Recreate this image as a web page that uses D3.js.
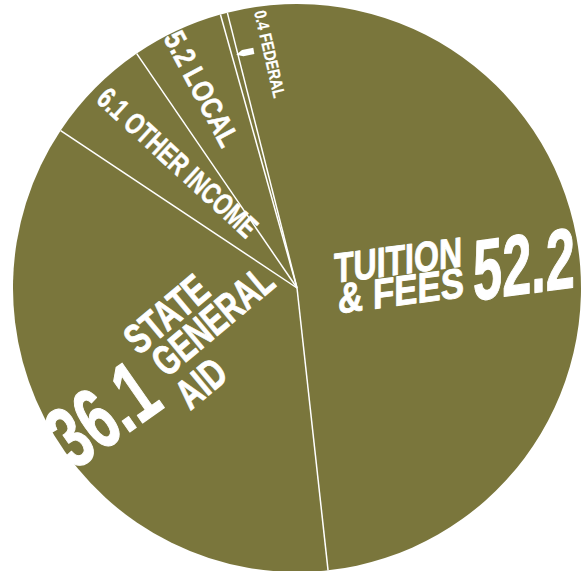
<!DOCTYPE html>
<html><head><meta charset="utf-8">
<script src="https://cdn.jsdelivr.net/npm/d3@7/dist/d3.min.js"></script>
<style>html,body{margin:0;padding:0;background:#fff;overflow:hidden}svg{display:block}</style>
</head><body>
<svg id="chart" width="588" height="571"></svg>
<script>
// ---- data ----
const categories = ["TUITION & FEES", "STATE GENERAL AID", "OTHER INCOME", "LOCAL", "FEDERAL"];
const values = [52.2, 36.1, 6.1, 5.2, 0.4];
const valueLabels = ["52.2", "36.1", "6.1", "5.2", "0.4"];

// ---- layout ----
const cx = 297, cy = 288, R = 284;
const fill = "#7a763c";
const FONT = "'Liberation Sans Narrow','Liberation Sans',Arial,sans-serif";
const deg = Math.PI / 180;
const start = -14.2 * deg;

const svg = d3.select("#chart");
const g = svg.append("g").attr("transform", `translate(${cx},${cy})`);

const pie = d3.pie().sort(null).value(d => d.v).startAngle(start).endAngle(start + 2 * Math.PI);
const rows = categories.map((c, i) => ({c, v: values[i], lab: valueLabels[i]}));
const arcs = pie(rows);
const arc = d3.arc().innerRadius(0).outerRadius(R);

g.selectAll("path.slice").data(arcs).join("path")
  .attr("class", "slice")
  .attr("d", arc)
  .attr("fill", fill);

g.selectAll("line.sep").data(arcs).join("line")
  .attr("class", "sep")
  .attr("x1", 0).attr("y1", 0)
  .attr("x2", d => R * Math.sin(d.startAngle))
  .attr("y2", d => -R * Math.cos(d.startAngle))
  .attr("stroke", "#fff").attr("stroke-width", 1.5);

// pointer for the thin federal slice
const fed = arcs[4];
const fm = (fed.startAngle + fed.endAngle) / 2;
const pr = 241;
const pol = (r, a) => [r * Math.sin(a), -r * Math.cos(a)];
const ptr = [
  pol(pr, fm + 0.3 * deg),
  pol(pr + 3.2, fm + 1.9 * deg),
  pol(pr + 3.2, fm + 4.6 * deg),
  pol(pr - 3.2, fm + 4.6 * deg),
  pol(pr - 3.2, fm + 1.9 * deg)
];
g.append("path").attr("d", "M" + ptr.join("L") + "Z").attr("fill", "#fff");

// ---- labels ----
function txt(sel, s, x, y, size, len, sw) {
  return sel.append("text").attr("x", x).attr("y", y)
    .attr("font-family", FONT).attr("font-weight", "bold")
    .attr("font-size", size).attr("fill", "#fff")
    .attr("stroke", "#fff").attr("stroke-width", sw || 0.6).attr("stroke-linejoin", "round")
    .attr("textLength", len).attr("lengthAdjust", "spacingAndGlyphs")
    .text(s);
}

// Tuition
const tg = svg.append("g").attr("transform", "translate(334,283) skewY(-7.5)");
txt(tg, "TUITION", 0, 0, 42, 128, 0.9);
txt(tg, "& FEES", 4, 31, 42, 126, 0.9);
txt(tg, valueLabels[0], 139, 36, 86, 102, 1.2);

// State general aid
const sg = svg.append("g").attr("transform", "translate(139,356) rotate(-40)");
txt(sg, "STATE", 0, 0, 42, 96, 0.9);
txt(sg, "GENERAL", 7, 35, 42, 144, 0.9);
txt(sg, "AID", 4, 75, 42, 52, 0.9);
const ng = svg.append("g").attr("transform", "translate(74,471) rotate(-35)");
txt(ng, valueLabels[1], 0, 0, 88, 112, 1.2);

// Other income
const og = svg.append("g").attr("transform", "translate(95,101) rotate(42.5)");
txt(og, valueLabels[2] + " OTHER INCOME", 0, 0, 30, 205, 0.5);

// Local
const lg = svg.append("g").attr("transform", "translate(163,38) rotate(62)");
txt(lg, valueLabels[3] + " LOCAL", 0, 0, 30, 126, 0.5);

// Federal
const fg = svg.append("g").attr("transform", "translate(254,12) rotate(77)");
txt(fg, valueLabels[4] + " FEDERAL", 0, 0, 17, 89, 0.2);
</script>
</body></html>
